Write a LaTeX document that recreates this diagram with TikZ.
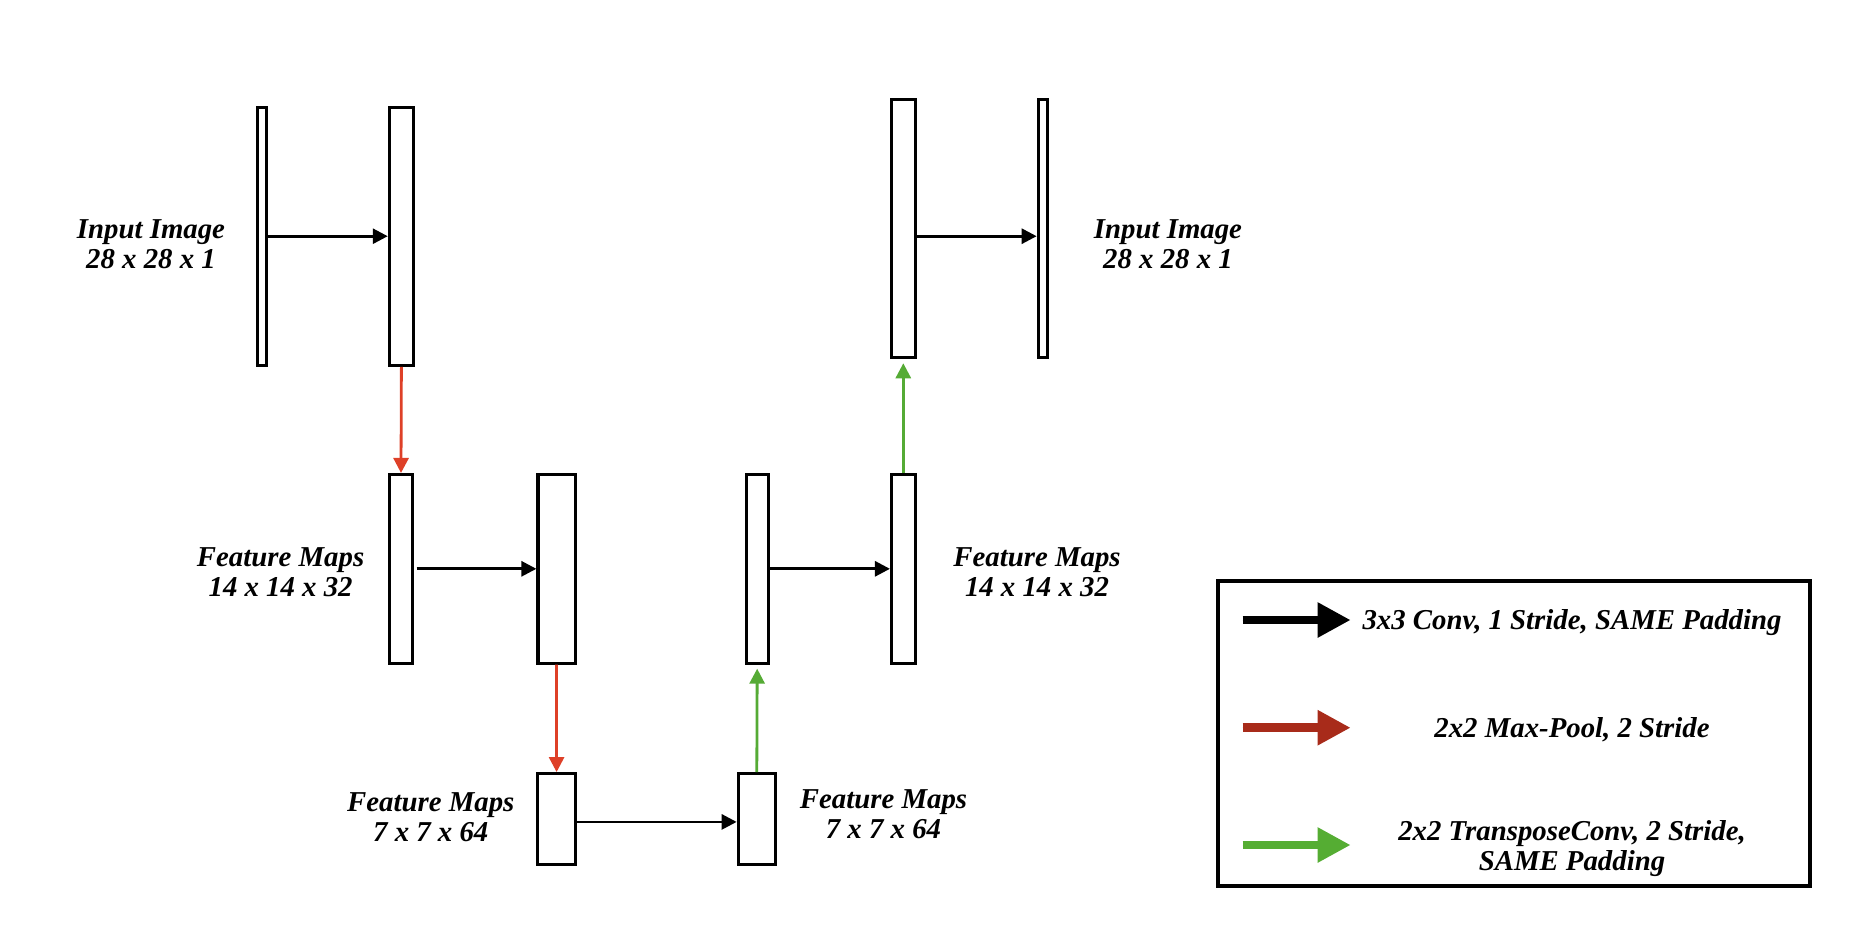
\documentclass[tikz,border=0pt]{standalone}
\usepackage{fontspec}
\setmainfont{Liberation Serif}
\usetikzlibrary{arrows.meta}
\definecolor{poolred}{HTML}{DE4028}
\definecolor{upgreen}{HTML}{55AB35}
\definecolor{keyred}{HTML}{A82B1A}
\definecolor{keygreen}{HTML}{55AD33}

\begin{document}
\begin{tikzpicture}[x=0.5pt,y=-0.5pt,
  layer/.style={draw=black, line width=1.55pt, fill=white, inner sep=0pt},
  lbl/.style={font=\fontsize{14.4}{15}\selectfont\bfseries\itshape, align=center, inner sep=0pt, anchor=base},
  conv/.style={draw=black, line width=1.4pt, -{Triangle[length=7.5pt,width=7.5pt]}},
  pool/.style={draw=poolred, line width=1.4pt, -{Triangle[length=7.5pt,width=7.5pt]}},
  up/.style={draw=upgreen, line width=1.4pt, -{Triangle[length=7.5pt,width=7.5pt]}, shorten >=2pt},
  keyarrow/.style={line width=4.35pt, -{Triangle[length=16.5pt,width=16.5pt]}},
  keybox/.style={draw=black, line width=2pt, inner sep=0pt},
]
\useasboundingbox (0,0) rectangle (1858,934);

% encoder, top row
\node[layer, minimum width=4.6pt,  minimum height=129pt] (A)  at (262.2, 236.2) {};
\node[layer, minimum width=12.1pt, minimum height=129pt] (B)  at (401.4, 236.2) {};
% decoder, top row
\node[layer, minimum width=11.8pt, minimum height=129pt] (E)  at (903.3, 228.7) {};
\node[layer, minimum width=4.6pt,  minimum height=129pt] (F)  at (1042.8, 228.7) {};
% middle row
\node[layer, minimum width=11.1pt, minimum height=94.3pt] (C1) at (401, 568.8) {};
\node[layer, minimum width=18.55pt,minimum height=94.3pt] (C2) at (556.5, 568.8) {};
\node[layer, minimum width=11.1pt, minimum height=94.3pt] (C3) at (757.2, 568.8) {};
\node[layer, minimum width=11.8pt, minimum height=94.3pt] (D)  at (903.3, 568.8) {};
% bottleneck row
\node[layer, minimum width=19.1pt, minimum height=45.3pt] (G1) at (556.6, 818.9) {};
\node[layer, minimum width=18.6pt, minimum height=45.3pt] (G2) at (756.8, 818.9) {};

% labels (anchored on the baseline of their last line)
\node[lbl] (inL)  at (151, 268)  {Input Image\\28 x 28 x 1};
\node[lbl] (inR)  at (1168, 268) {Input Image\\28 x 28 x 1};
\node[lbl] (fmL)  at (280.6, 596.7) {Feature Maps\\14 x 14 x 32};
\node[lbl] (fmR)  at (1037, 596.7)  {Feature Maps\\14 x 14 x 32};
\node[lbl] (bnL)  at (430.8, 841)   {Feature Maps\\7 x 7 x 64};
\node[lbl] (bnR)  at (883.5, 838)   {Feature Maps\\7 x 7 x 64};

% convolutions
\draw[conv] (A.east) -- (B.west);
\draw[conv] (E.east |- A.east) -- (F.west |- A.east);
\draw[conv, shorten <=1.5pt] (C1.east) -- (C2.west);
\draw[conv] (C3.east) -- (D.west);
\draw[conv] ([yshift=-1.5pt]G1.east) -- ([yshift=-1.5pt]G2.west);

% pooling
\draw[pool] (B.south) -- (C1.north);
\draw[pool] (C2.south) -- (G1.north);

% transpose convolutions
\draw[up] (G2.north) -- (C3.south);
\draw[up] (D.north) -- (E.south);

% legend
\node[keybox, minimum width=295.8pt, minimum height=152.6pt] (key) at (1513.7, 733.7) {};
\coordinate (k1s) at (1242.7, 620);   \coordinate (k1e) at (1350.7, 620);
\coordinate (k2s) at (1242.7, 727.7); \coordinate (k2e) at (1350.7, 727.7);
\coordinate (k3s) at (1242.7, 845);   \coordinate (k3e) at (1350.7, 845);
\draw[keyarrow, draw=black, fill=black] (k1s) -- (k1e);
\draw[keyarrow, draw=keyred, fill=keyred] (k2s) -- (k2e);
\draw[keyarrow, draw=keygreen, fill=keygreen] (k3s) -- (k3e);
\node[lbl] (t1) at (1572, 629)   {3x3 Conv, 1 Stride, SAME Padding};
\node[lbl] (t2) at (1572, 737)   {2x2 Max-Pool, 2 Stride};
\node[lbl] (t3) at (1572, 870.7) {2x2 TransposeConv, 2 Stride,\\SAME Padding};
\end{tikzpicture}
\end{document}
